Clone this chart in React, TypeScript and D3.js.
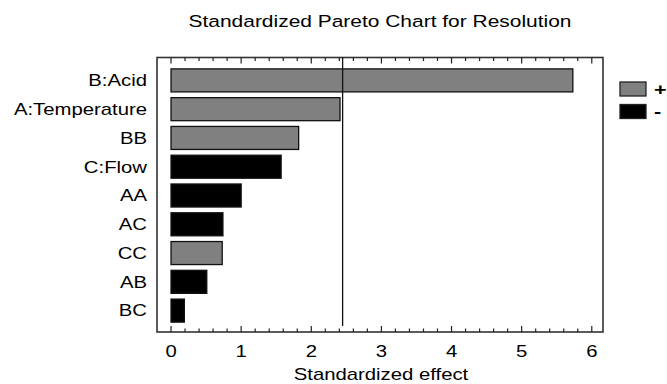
import * as d3 from "d3";
import type { ReactNode } from "react";

const factors = ["B:Acid", "A:Temperature", "BB", "C:Flow", "AA", "AC", "CC", "AB", "BC"];
const effects = [5.73, 2.41, 1.82, 1.57, 1.0, 0.74, 0.73, 0.51, 0.19];
const signs = ["+", "+", "+", "-", "-", "-", "+", "-", "-"];
const xTicks = [0, 1, 2, 3, 4, 5, 6];
const criticalValue = 2.447;

const legendItems = ["+", "-"];

// the original glyphs are wider than Arial, so text gets a horizontal stretch
const STRETCH = 1.27;

function Txt({
  x,
  y,
  anchor = "start",
  size = 16,
  weight = "normal",
  children,
}: {
  x: number;
  y: number;
  anchor?: "start" | "middle" | "end";
  size?: number;
  weight?: string;
  children: ReactNode;
}) {
  return (
    <text
      transform={`translate(${x},${y}) scale(${STRETCH},1)`}
      textAnchor={anchor}
      fontSize={size}
      fontWeight={weight}
      fill="#000"
    >
      {children}
    </text>
  );
}

export default function App() {
  const width = 667;
  const height = 384;

  // plot frame
  const left = 157;
  const right = 603;
  const top = 57.5;
  const bottom = 332;

  const xScale = d3.scaleLinear([-0.2, 6.16], [left, right]);
  const yScale = d3
    .scaleBand(factors, [66, 325])
    .paddingInner(0.2)
    .paddingOuter(0.1);

  const minorTicks = d3.range(0, 6.01, 0.2).map((v) => +v.toFixed(1));
  const font = "Arial, 'Liberation Sans', sans-serif";
  const fillFor = (s: string) => (s === "+" ? "#808080" : "#000");

  return (
    <svg
      width={width}
      height={height}
      style={{ position: "absolute", left: 0, top: 0, background: "#fff" }}
      fontFamily={font}
    >
      <Txt x={380} y={27} anchor="middle" size={16.5}>
        Standardized Pareto Chart for Resolution
      </Txt>

      {/* frame */}
      <rect
        x={left}
        y={top}
        width={right - left}
        height={bottom - top}
        fill="none"
        stroke="#333"
        strokeWidth={1.6}
      />

      {/* ticks top and bottom, pointing inward */}
      {minorTicks.map((t) => {
        const major = Number.isInteger(t);
        const len = major ? 6 : 3.5;
        return (
          <g key={"t" + t}>
            <line x1={xScale(t)} x2={xScale(t)} y1={bottom} y2={bottom - len} stroke="#222" strokeWidth={1.2} />
            <line x1={xScale(t)} x2={xScale(t)} y1={top} y2={top + len} stroke="#222" strokeWidth={1.2} />
          </g>
        );
      })}

      {/* bars */}
      {factors.map((f, i) => (
        <rect
          key={f}
          x={xScale(0)}
          y={yScale(f)!}
          width={xScale(effects[i]) - xScale(0)}
          height={yScale.bandwidth()}
          fill={fillFor(signs[i])}
          stroke="#111"
          strokeWidth={1.3}
        />
      ))}

      {/* reference line */}
      <line
        x1={xScale(criticalValue)}
        x2={xScale(criticalValue)}
        y1={top}
        y2={bottom - 6}
        stroke="#111"
        strokeWidth={1.3}
      />

      {/* category labels */}
      {factors.map((f) => (
        <Txt key={"l" + f} x={147} y={yScale(f)! + yScale.bandwidth() / 2 + 5.8} anchor="end">
          {f}
        </Txt>
      ))}

      {/* x tick labels */}
      {xTicks.map((t) => (
        <Txt key={"x" + t} x={xScale(t)} y={357} anchor="middle">
          {t}
        </Txt>
      ))}
      <Txt x={381} y={380} anchor="middle">
        Standardized effect
      </Txt>

      {/* legend */}
      {legendItems.map((s, i) => (
        <g key={"lg" + s}>
          <rect
            x={620}
            y={82 + i * 22.5}
            width={26}
            height={14}
            fill={fillFor(s)}
            stroke="#222"
            strokeWidth={1.3}
          />
          <Txt x={654} y={82 + i * 22.5 + 12.5} size={17} weight="bold">
            {s}
          </Txt>
        </g>
      ))}
    </svg>
  );
}
